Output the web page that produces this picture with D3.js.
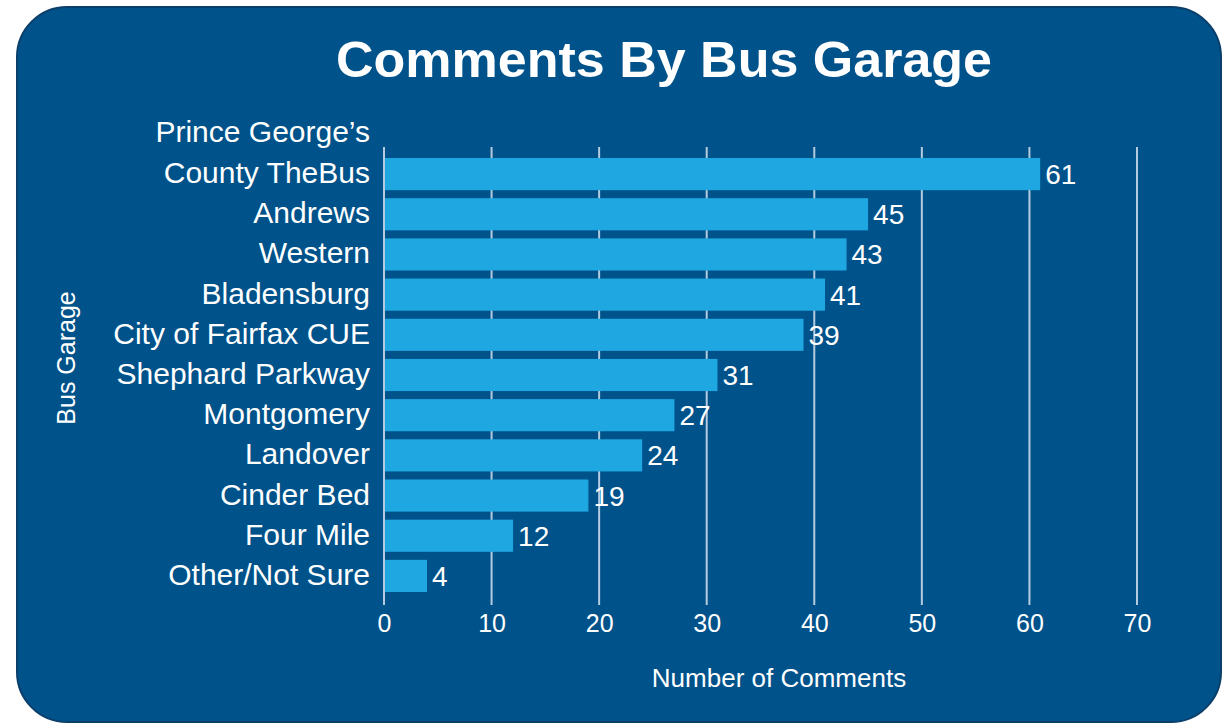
<!DOCTYPE html>
<html><head><meta charset="utf-8">
<script src="https://cdn.jsdelivr.net/npm/d3@7"></script>
<style>body{margin:0;background:#fff}svg{display:block}</style>
</head><body>
<script>
const categories = ["Prince George’s\nCounty TheBus","Andrews","Western","Bladensburg","City of Fairfax CUE","Shephard Parkway","Montgomery","Landover","Cinder Bed","Four Mile","Other/Not Sure"];
const values = [61,45,43,41,39,31,27,24,19,12,4];
const xTicks = [0,10,20,30,40,50,60,70];
const title = "Comments By Bus Garage";
const xTitle = "Number of Comments";
const yTitle = "Bus Garage";

const W=1225,H=724;
const svg=d3.select("body").append("svg").attr("width",W).attr("height",H);
svg.append("rect").attr("x",17).attr("y",7).attr("width",1204).attr("height",715)
  .attr("rx",50).attr("ry",50).attr("fill","#00528a").attr("stroke","#0b3f6b").attr("stroke-width",2);

const x=d3.scaleLinear().domain([0,70]).range([384,1137]);
const y=d3.scaleBand().domain(categories).range([154,596]).paddingInner(0.2).paddingOuter(0.1);
const font="'Liberation Sans', Arial, sans-serif";

// gridlines
svg.append("g").selectAll("line").data(xTicks).join("line")
  .attr("x1",d=>x(d)).attr("x2",d=>x(d)).attr("y1",147).attr("y2",605)
  .attr("stroke","#b4cbe0").attr("stroke-width",2);

// bars
svg.append("g").selectAll("rect").data(values).join("rect")
  .attr("x",x(0)+1).attr("y",(d,i)=>y(categories[i]))
  .attr("width",d=>x(d)-x(0)-1).attr("height",y.bandwidth())
  .attr("fill","#1ea7e1");

// value labels
svg.append("g").selectAll("text").data(values).join("text")
  .attr("x",d=>x(d)+5).attr("y",(d,i)=>y(categories[i])+y.bandwidth()/2+10)
  .attr("fill","#fff").attr("font-family",font).attr("font-size",28).text(d=>d);

// category labels
const cl=svg.append("g").selectAll("text").data(categories).join("text")
  .attr("text-anchor","end").attr("fill","#fff").attr("font-family",font).attr("font-size",30);
cl.each(function(d){
  const lines=d.split("\n");
  const yc=y(d)+y.bandwidth()/2+9;
  const t=d3.select(this);
  lines.forEach((l,k)=>{
    t.append("tspan").attr("x",370).attr("y",yc-(lines.length-1-k)*41).text(l);
  });
});

// x axis tick labels
const ax=svg.append("g").attr("transform","translate(0,632)")
  .call(d3.axisBottom(x).tickValues(xTicks).tickSize(0).tickPadding(0));
ax.select(".domain").remove();
ax.selectAll("text").attr("fill","#fff").attr("font-family",font)
  .attr("font-size",25).attr("dy","0");

svg.append("text").attr("x",779).attr("y",687).attr("text-anchor","middle")
  .attr("fill","#fff").attr("font-family",font)
  .attr("font-size",26).text(xTitle);

svg.append("text").attr("transform","translate(75,358) rotate(-90)").attr("text-anchor","middle")
  .attr("fill","#fff").attr("font-family",font)
  .attr("font-size",25).text(yTitle);

svg.append("text").attr("x",664).attr("y",77).attr("text-anchor","middle")
  .attr("fill","#fff").attr("font-family",font).attr("font-weight","bold")
  .attr("font-size",50).attr("textLength",656).attr("lengthAdjust","spacingAndGlyphs").text(title);
</script>
</body></html>
